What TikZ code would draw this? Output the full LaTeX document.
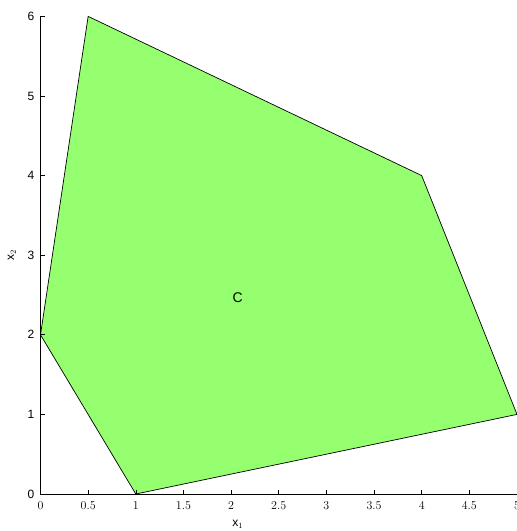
\documentclass[tikz,border=0pt]{standalone}
\usepackage{fontspec}
\setmainfont{Liberation Sans}
\definecolor{polygreen}{RGB}{150,255,112}

\begin{document}
\begin{tikzpicture}[x=95.3pt, y=79.6pt,
    ticklabel/.style={font=\fontsize{12}{14}\selectfont, inner sep=0pt},
    axislabel/.style={font=\fontsize{12}{14}\selectfont, inner sep=0pt}]
        \useasboundingbox (-40.5pt,-37pt) rectangle (476.5pt,494pt);

        % mnohouhelnik
        \draw[fill=polygreen, line width=0.7pt] (0,2) coordinate (A)
        -- (1,0) coordinate (B)
        -- (5,1) coordinate (D)
        -- (4,4) coordinate (E)
        -- (0.5,6) coordinate (F)
        -- cycle;

        % osy
        \draw[line width=0.8pt] (0,6) coordinate (ytop) -- (0,0) coordinate (O) -- (5,0) coordinate (xend);
        \foreach \x in {0,0.5,...,5}
            \draw[line width=0.6pt] (\x,0) -- ++(0,4pt) (\x,0) node[ticklabel, below=7pt] {\pgfmathprintnumber{\x}};
        \foreach \y in {0,...,6}
            \draw[line width=0.6pt] (0,\y) -- ++(4pt,0) (0,\y) node[ticklabel, left=6pt] {\y};

        % popisky
        \node[axislabel] (xlab) at (2.07,-0.385) {x$_1$};
        \node[axislabel, rotate=90] (ylab) at (-0.3,3.0) {x$_2$};
        \node[font=\fontsize{14}{16}\selectfont] (C) at (2.07,2.47) {C};
    \end{tikzpicture}
\end{document}
